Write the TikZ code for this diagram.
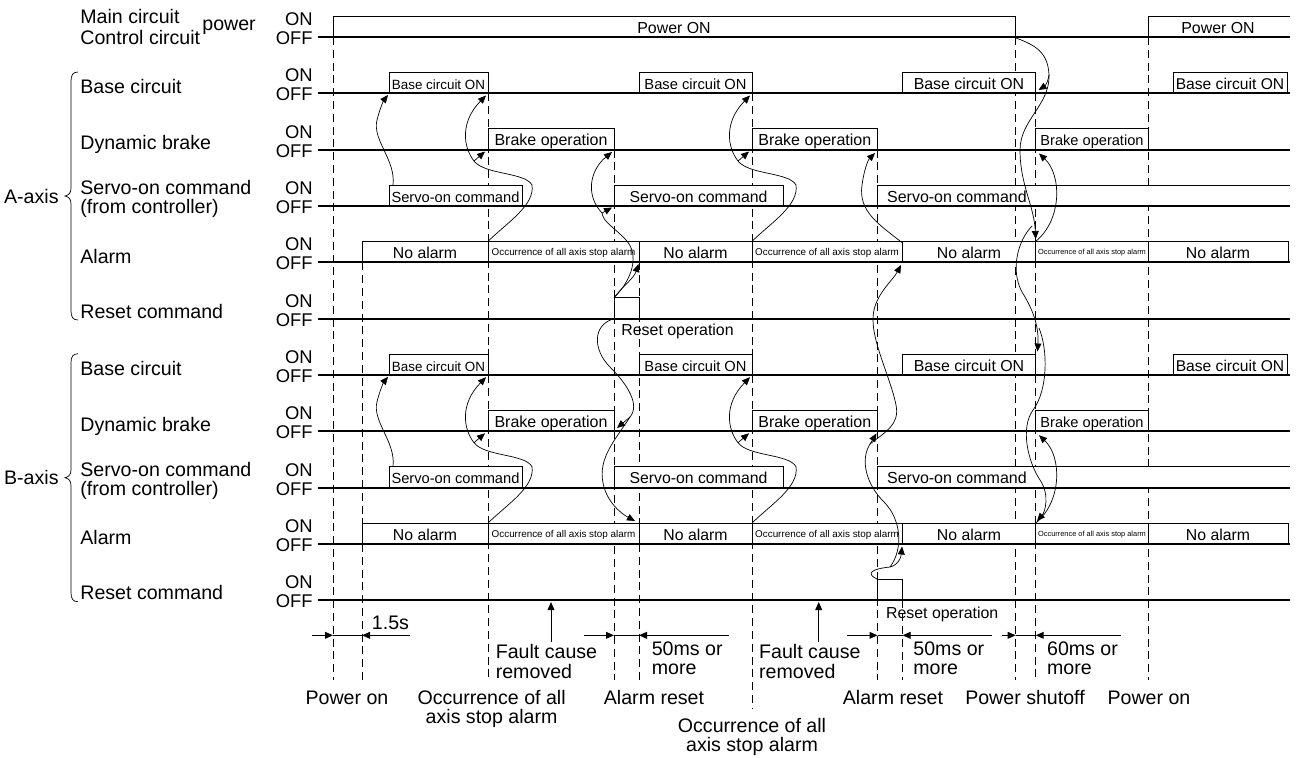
\documentclass[tikz,border=0pt]{standalone}
\usepackage{fontspec}
\setmainfont{Liberation Sans}
\usetikzlibrary{arrows.meta}

\begin{document}
\begin{tikzpicture}[
    x=0.5pt, y=-0.5pt,
    sigline/.style={line width=1.1pt},
    pulse/.style={line width=0.5pt, fill=white},
    thinline/.style={line width=0.5pt},
    guide/.style={line width=0.45pt, dash pattern=on 4pt off 2.4pt},
    wire/.style={line width=0.35pt},
    cause/.style={line width=0.35pt, -{Triangle[length=4pt, width=3.4pt]}},
    dim/.style={line width=0.5pt, -{Triangle[length=4pt, width=3.4pt]}},
    lab/.style={inner sep=0pt, font=\fontsize{9.8}{9.8}\selectfont},
    onoff/.style={inner sep=0pt, anchor=base east, font=\fontsize{9.2}{9.2}\selectfont},
    boxtxt/.style={inner sep=0pt, anchor=base, font=\fontsize{#1}{#1}\selectfont}
]
\fill[white] (0,0) rectangle (1299,757);
\useasboundingbox (0,0) rectangle (1299,757);

% Dashed time marks
\foreach \t/\ya/\yb in {333/37/680, 362/262.3/680, 488/93.3/680, 614/149.6/680,
    639/262.3/680, 752/93.3/708, 877.5/149.6/680, 902.5/600.3/680,
    1015.7/37/680, 1035.7/93.3/680, 1148.5/37/680}
  \draw[guide] (\t,\ya) -- (\t,\yb);

% Power row
\node[lab, anchor=base west] (mainc) at (80,23.3) {Main circuit};
\node[lab, anchor=base west] (ctrlc) at (80,44.3) {Control circuit};
\node[lab, anchor=base west] (pwrw) at (202,30.7) {power};
\draw[pulse] (333,37) |- (1015.7,16) -- (1015.7,37);
\fill[white] (1148.5,16) rectangle (1290,37);
\draw[thinline] (1148.5,37) |- (1290,16);
\node[boxtxt=7.95] (pwr1) at (674,33) {Power ON};
\node[boxtxt=7.95] (pwr2) at (1218,33) {Power ON};

% A-axis and B-axis rows
\foreach \ax/\dy in {A/0, B/281.7} {
\begin{scope}[shift={(0,\dy)}]
  \node[lab, anchor=base west] (\ax-base) at (80,93.3) {Base circuit};
  \node[lab, anchor=base west] (\ax-brake) at (80,149.6) {Dynamic brake};
  \node[lab, anchor=base west] (\ax-servo) at (80,194.6) {Servo-on command};
  \node[lab, anchor=base west] (\ax-from) at (80,213.6) {(from controller)};
  \node[lab, anchor=base west] (\ax-alarm) at (80,263) {Alarm};
  \node[lab, anchor=base west] (\ax-reset) at (80,318) {Reset command};
  \node[lab, anchor=east] (\ax-axis) at (59,196) {\ax-axis};
  \draw[wire] (78,72) .. controls (73,72) and (71,75) .. (71,81) -- (71,188)
    .. controls (71,193) and (69,195) .. (65,196) .. controls (69,197) and (71,199) .. (71,204)
    -- (71,311) .. controls (71,317) and (73,320) .. (78,320);
  % base circuit
  \foreach \a/\b in {389/488, 639/752, 902.5/1035.7, 1173.3/1287}
    \draw[pulse] (\a,93.3) |- (\b,72.3) -- (\b,93.3);
  \foreach \c/\s [count=\i] in {438.5/6.7, 695.5/7.35, 969/7.95, 1230/7.8}
    \node[boxtxt=\s] (\ax-bon\i) at (\c,89.3) {Base circuit ON};
  % dynamic brake
  \foreach \a/\b in {488/614, 752/877.5, 1035.7/1148.5}
    \draw[pulse] (\a,149.6) |- (\b,128.6) -- (\b,149.6);
  \foreach \c/\s [count=\i] in {551/8, 814.8/8, 1092/7.3}
    \node[boxtxt=\s] (\ax-brk\i) at (\c,145.6) {Brake operation};
  % servo-on command
  \foreach \a/\b in {389/522, 614/783}
    \draw[pulse] (\a,206) |- (\b,185) -- (\b,206);
  \fill[white] (877.5,185) rectangle (1290,206);
  \draw[thinline] (877.5,206) |- (1290,185);
  \node[boxtxt=7.33] (\ax-son1) at (455.5,202) {Servo-on command};
  \node[boxtxt=7.9] (\ax-son2) at (698.5,202) {Servo-on command};
  \node[boxtxt=8, anchor=base west] (\ax-son3) at (886.7,202) {Servo-on command};
  % alarm
  \foreach \a/\b in {362/488, 488/639, 639/752, 752/902.5, 902.5/1035.7, 1035.7/1148.5, 1148.5/1288}
    \draw[pulse] (\a,262.3) |- (\b,241.3) -- (\b,262.3);
  \foreach \c [count=\i] in {425, 695.5, 969, 1218}
    \node[boxtxt=7.9] (\ax-nal\i) at (\c,258.3) {No alarm};
  \node[boxtxt=4.93] (\ax-occ1) at (563.5,255.3) {Occurrence of all axis stop alarm};
  \node[boxtxt=4.93] (\ax-occ2) at (827,255.3) {Occurrence of all axis stop alarm};
  \node[boxtxt=3.7] (\ax-occ3) at (1092,254.5) {Occurrence of all axis stop alarm};
  % causes repeated on both axes
  \draw[cause] (393,185) .. controls (396,160) and (372,140) .. (377,120)
    .. controls (380,108) and (384,100) .. (388,95);
  \foreach \dx in {0, 264} {
    \draw[wire] (488+\dx,241.3) .. controls (508+\dx,222) and (535+\dx,205) .. (532+\dx,185)
      .. controls (525+\dx,172) and (485+\dx,175) .. (474+\dx,161);
    \draw[cause] (474+\dx,161) -- (485+\dx,151.5);
    \draw[cause] (474+\dx,161) .. controls (463+\dx,147) and (460+\dx,122) .. (486+\dx,95.5);
  }
  \draw[cause] (1035.7,241.3) .. controls (1062,220) and (1062,175) .. (1039,153.5);
\end{scope}
}

% Reset pulses
\draw[pulse] (614,318.6) |- (639,297.6) -- (639,318.6);
\node[boxtxt=7.95, anchor=base west] (rstA) at (621,335) {Reset operation};
\draw[pulse] (877.5,600.3) |- (902.5,579.3) -- (902.5,600.3);
\node[boxtxt=7.95, anchor=base west] (rstB) at (885.7,618) {Reset operation};

% OFF lines
\foreach \r [count=\i] in {37, 93.3, 149.6, 206, 262.3, 318.6, 375, 431.3, 487.6, 544, 600.3} {
  \draw[sigline] (318,\r) -- (1290,\r);
  \node[onoff] (on\i) at (313,{\r-11.4}) {ON};
  \node[onoff] (off\i) at (313,{\r+7.6}) {OFF};
}

% Reset A causes
\draw[cause] (614,297.6) .. controls (624,285) and (634,278) .. (638.5,264);
\draw[wire] (614,297.6) .. controls (632,280) and (640,255) .. (626,240)
  .. controls (615,228) and (603,222) .. (602,213);
\draw[cause] (602,213) -- (612,207.5);
\draw[cause] (602,213) .. controls (585,195) and (590,170) .. (612,152);
\draw[wire] (614,318.6) .. controls (592,325) and (593,350) .. (610,367)
  .. controls (628,385) and (640,405) .. (630,417);
\draw[cause] (630,417) -- (617,428);
\draw[cause] (630,417) .. controls (615,440) and (598,458) .. (603,483)
  .. controls (607,503) and (622,514) .. (635,521);

% Reset B causes
\draw[cause] (902.5,243) .. controls (880,225) and (858,212) .. (862,185)
  .. controls (864,170) and (868,160) .. (875,153);
\draw[cause] (877.5,579.3) .. controls (866,574) and (870,569) .. (890,567)
  .. controls (898,565) and (901,558) .. (902,546.5);
\draw[wire] (890,567) .. controls (903,550) and (902,520) .. (884,502)
  .. controls (866,484) and (860,460) .. (870,444);
\draw[cause] (870,444) -- (876.5,433.5);
\draw[cause] (870,444) .. controls (885,432) and (900,425) .. (896,405)
  .. controls (890,375) and (868,335) .. (874,310)
  .. controls (878,292) and (893,280) .. (901,265);

% Power shutoff causes
\draw[wire] (1016,38) .. controls (1035,45) and (1048,52) .. (1049,75);
\draw[cause] (1049,75) .. controls (1048,82) and (1045,86) .. (1038.5,90);
\draw[cause] (1049,75) .. controls (1050,105) and (1020,120) .. (1020,150)
  .. controls (1020,185) and (1034,205) .. (1035.7,239);
\draw[cause] (1032,226) .. controls (1018,240) and (1010,270) .. (1022,292)
  .. controls (1032,308) and (1039,325) .. (1037.5,351.5);
\draw[cause] (1039,328) .. controls (1048,350) and (1048,390) .. (1033,410)
  .. controls (1020,428) and (1028,462) .. (1040,480)
  .. controls (1050,495) and (1045,512) .. (1037,521);

% Time spans
\foreach \l/\a/\b/\r in {311.6/333/362/410, 583.5/614/639/729,
    846.8/877.5/902.5/991.7, 1001.7/1015.7/1035.7/1120.7} {
  \draw[dim] (\l,635.3) -- (\a,635.3);
  \draw[dim] (\r,635.3) -- (\b,635.3);
  \draw[thinline] (\a,635.3) -- (\b,635.3);
}
\node[lab, anchor=base west] (t15) at (371.5,629) {1.5s};
\node[lab, anchor=north west, align=left] (ms50a) at (651.4,641) {50ms or\\more};
\node[lab, anchor=north west, align=left] (ms50b) at (913,641) {50ms or\\more};
\node[lab, anchor=north west, align=left] (ms60) at (1046.7,641) {60ms or\\more};

% Fault cause removed
\node[lab, anchor=north west, align=left] (fault1) at (495.4,644.2) {Fault cause\\removed};
\node[lab, anchor=north west, align=left] (fault2) at (758.8,644.2) {Fault cause\\removed};
\draw[dim] (551,641.7) -- (551,602);
\draw[dim] (818.7,641.7) -- (818.7,602);

% Event names
\node[lab, anchor=base] (pon1) at (347,704) {Power on};
\node[lab, anchor=north, align=center] (ev1) at (491.6,689.7) {Occurrence of all\\axis stop alarm};
\node[lab, anchor=base] (ares1) at (654,704) {Alarm reset};
\node[lab, anchor=north, align=center] (ev2) at (752,717.4) {Occurrence of all\\axis stop alarm};
\node[lab, anchor=base] (ares2) at (893,704) {Alarm reset};
\node[lab, anchor=base] (poff) at (1025,704) {Power shutoff};
\node[lab, anchor=base] (pon2) at (1149,704) {Power on};
\end{tikzpicture}
\end{document}
